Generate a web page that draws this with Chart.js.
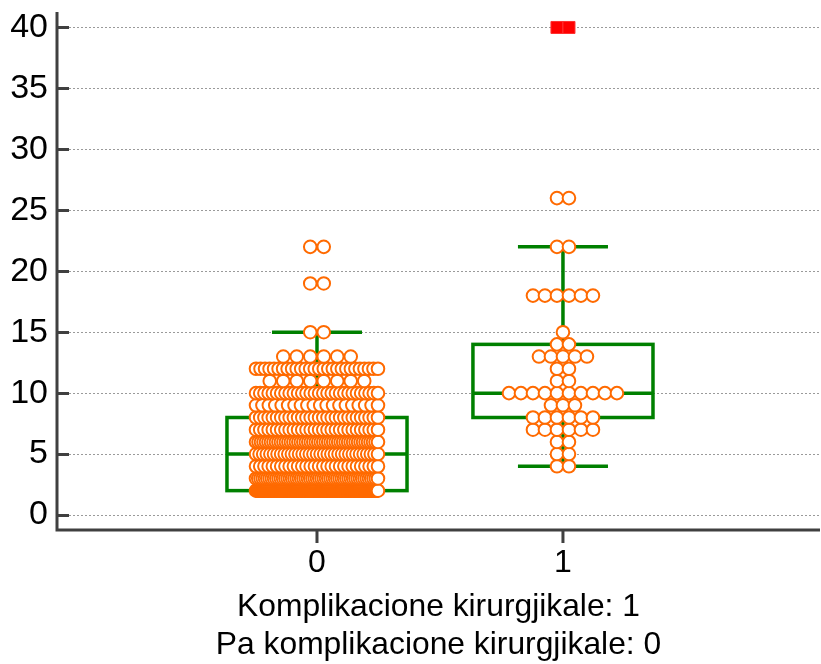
<!DOCTYPE html>
<html>
<head>
<meta charset="utf-8">
<script src="https://cdn.jsdelivr.net/npm/chart.js@4.4.0/dist/chart.umd.min.js"></script>
<style>
   html, body { margin: 0; padding: 0; background: #fff; }
</style>
</head>
<body>
<canvas id="boxDot" width="821" height="664"></canvas>
<script>
let groups = ["0", "1"];
let titleLines = ["Komplikacione kirurgjikale: 1", "Pa komplikacione kirurgjikale: 0"];

let values0 = [2, 3, 4, 5, 6, 7, 8, 9, 10, 11, 12, 13, 15, 19, 22];
let counts0 = [115, 55, 30, 35, 50, 30, 30, 20, 30, 8, 28, 6, 2, 2, 2];

let values1 = [4, 5, 6, 7, 8, 9, 10, 11, 12, 13, 14, 15, 18, 22, 26, 40];
let counts1 = [2, 2, 2, 6, 6, 3, 10, 2, 2, 5, 2, 1, 6, 2, 2, 2];

let yTicks = [0, 5, 10, 15, 20, 25, 30, 35, 40];

const PX_PER_UNIT = 246;       // x scale: 1 category step
const dotStep = [13.5, 12];    // px between dots in a row
const rowMax = 122;            // widest row, px
const green = "#008000";
const orange = "#ff6a00";
const axisColor = "#404040";
const fontFamily = "Arial, 'Liberation Sans', sans-serif";

function expand(values, counts) {
   let out = [];
   values.forEach((v, i) => { for (let k = 0; k < counts[i]; k++) out.push(v); });
   return out;
}

function quantile(sorted, p) {
   let r = p * (sorted.length + 1) - 1;
   let lo = Math.max(0, Math.floor(r)), hi = Math.min(sorted.length - 1, lo + 1);
   return sorted[lo] + (sorted[hi] - sorted[lo]) * (r - lo);
}

function stats(values, counts) {
   let s = expand(values, counts);
   let q1 = quantile(s, 0.25), med = quantile(s, 0.5), q3 = quantile(s, 0.75);
   let iqr = q3 - q1;
   let lowW = Math.min(...s.filter(v => v >= q1 - 1.5 * iqr));
   let highW = Math.max(...s.filter(v => v <= q3 + 1.5 * iqr));
   return {q1, med, q3, lowW, highW, farHi: q3 + 3 * iqr, farLo: q1 - 3 * iqr};
}

let boxStats = [stats(values0, counts0), stats(values1, counts1)];

// dot rows: n dots centred on the category, squeezed when too wide
function rows(values, counts, g, far) {
   let pts = [];
   values.forEach((v, i) => {
      let isFar = v > boxStats[g].farHi || v < boxStats[g].farLo;
      if (isFar !== far) return;
      let n = counts[i];
      let step = n > 1 ? Math.min(dotStep[g], rowMax / (n - 1)) : 0;
      for (let k = 0; k < n; k++) {
         pts.push({x: g + ((k - (n - 1) / 2) * step) / PX_PER_UNIT, y: v});
      }
   });
   return pts;
}

let dots = rows(values0, counts0, 0, false).concat(rows(values1, counts1, 1, false));
let farOut = rows(values0, counts0, 0, true).concat(rows(values1, counts1, 1, true));

const backdrop = {
   id: "backdrop",
   beforeDatasetsDraw(chart) {
      const {ctx, chartArea: a, scales: {x, y}} = chart;
      ctx.save();
      // dotted grid
      ctx.strokeStyle = "#9a9a9a";
      ctx.lineWidth = 1;
      ctx.setLineDash([2, 2]);
      yTicks.forEach(t => {
         let py = Math.round(y.getPixelForValue(t)) + 0.5;
         ctx.beginPath();
         ctx.moveTo(a.left + 12, py);
         ctx.lineTo(a.right, py);
         ctx.stroke();
      });
      ctx.setLineDash([]);

      // box plots
      ctx.strokeStyle = green;
      ctx.lineWidth = 3.5;
      boxStats.forEach((b, g) => {
         let xl = x.getPixelForValue(g - 0.366), xr = x.getPixelForValue(g + 0.366);
         let cl = x.getPixelForValue(g - 0.183), cr = x.getPixelForValue(g + 0.183);
         let xc = x.getPixelForValue(g);
         let [p1, pm, p3, pl, ph] = [b.q1, b.med, b.q3, b.lowW, b.highW].map(v => y.getPixelForValue(v));
         ctx.strokeRect(xl, p3, xr - xl, p1 - p3);
         ctx.beginPath();
         ctx.moveTo(xl, pm); ctx.lineTo(xr, pm);
         ctx.moveTo(xc, p3); ctx.lineTo(xc, ph);
         ctx.moveTo(xc, p1); ctx.lineTo(xc, pl);
         ctx.moveTo(cl, ph); ctx.lineTo(cr, ph);
         ctx.moveTo(cl, pl); ctx.lineTo(cr, pl);
         ctx.stroke();
      });

      // axes with inward ticks
      ctx.strokeStyle = axisColor;
      ctx.lineWidth = 3;
      ctx.beginPath();
      ctx.moveTo(a.left, a.top);
      ctx.lineTo(a.left, a.bottom);
      ctx.lineTo(a.right, a.bottom);
      yTicks.forEach(t => {
         let py = Math.round(y.getPixelForValue(t)) + 0.5;
         ctx.moveTo(a.left, py);
         ctx.lineTo(a.left + 12, py);
      });
      groups.forEach((c, g) => {
         let px = x.getPixelForValue(g);
         ctx.moveTo(px, a.bottom);
         ctx.lineTo(px, a.bottom + 13);
      });
      ctx.stroke();
      ctx.restore();
   },
};

const ctx = document.getElementById("boxDot").getContext("2d");
const boxChart = new Chart(ctx, {
   type: "scatter",
   data: {
      datasets: [
         {
            label: "observations",
            data: dots,
            pointRadius: 6.3,
            pointBorderWidth: 2,
            pointBackgroundColor: "#ffffff",
            pointBorderColor: orange,
         },
         {
            label: "far out",
            data: farOut,
            pointStyle: "rect",
            pointRadius: 8.5,
            pointBorderWidth: 1,
            pointBackgroundColor: "#ff0000",
            pointBorderColor: "#ff3030",
         },
      ],
   },
   options: {
      responsive: false,
      animation: false,
      events: [],
      layout: {autoPadding: false, padding: {top: 12, right: 1, left: 0, bottom: 0}},
      plugins: {
         legend: {display: false},
         tooltip: {enabled: false},
      },
      scales: {
         x: {
            type: "linear",
            min: -1.057,
            max: 2.045,
            afterBuildTicks: s => { s.ticks = groups.map((c, i) => ({value: i})); },
            afterFit: s => { s.height = 134; s.paddingLeft = 0; s.paddingRight = 0; },
            grid: {display: false, drawTicks: false},
            border: {display: false},
            ticks: {
               font: {family: fontFamily, size: 32},
               color: "#000",
               padding: 14,
               maxRotation: 0,
               callback: v => groups[v],
            },
            title: {
               display: true,
               text: titleLines,
               font: {family: fontFamily, size: 31.8, lineHeight: 1.2},
               color: "#000",
               padding: {top: 0, bottom: 0},
            },
         },
         y: {
            min: -1.23,
            max: 41.27,
            afterBuildTicks: s => { s.ticks = yTicks.map(v => ({value: v})); },
            afterFit: s => { s.width = 57; s.paddingTop = 0; s.paddingBottom = 0; },
            grid: {display: false, drawTicks: false},
            border: {display: false},
            ticks: {
               font: {family: fontFamily, size: 34},
               color: "#000",
               padding: 9,
            },
         },
      },
   },
   plugins: [backdrop],
});
</script>
</body>
</html>
